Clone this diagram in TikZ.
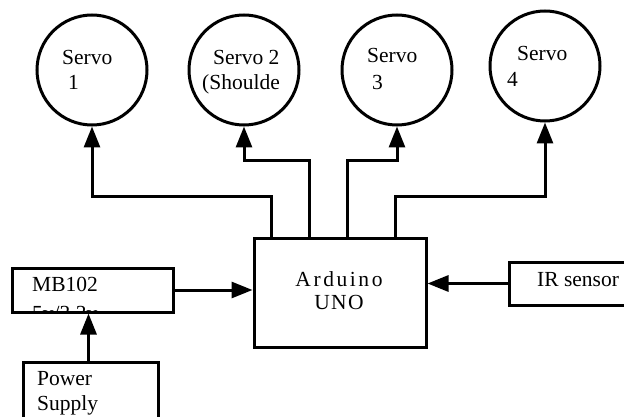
\documentclass[tikz,border=0pt]{standalone}
\usepackage{fontspec}
\setmainfont{Liberation Serif}
\usetikzlibrary{arrows.meta}
\begin{document}
\begin{tikzpicture}[x=1pt,y=-1pt,
  every node/.style={font=\fontsize{21.5}{25}\selectfont},
  servo/.style={circle,draw,line width=3pt,minimum size=110pt,inner sep=0pt},
  blk/.style={draw,line width=3pt,inner sep=0pt},
  lbl/.style={anchor=base west,inner sep=0pt},
  arr/.style={line width=3pt,-{Triangle[length=21pt,width=16pt]}}]
\useasboundingbox (0,0) rectangle (624,417);
% servos
\node[servo] (s1) at (92,70) {};
\node[servo] (s2) at (244,70) {};
\node[servo] (s3) at (397,70) {};
\node[servo] (s4) at (545,66) {};
\node[lbl] (t1a) at (62,65) {Servo};
\node[lbl] (t1b) at (68,90) {1};
\node[lbl] (t2a) at (213,65) {Servo 2};
\node[lbl] (t2b) at (202,90) {(Shoulde};
\node[lbl] (t3a) at (367,63) {Servo};
\node[lbl] (t3b) at (372,90) {3};
\node[lbl] (t4a) at (517,61) {Servo};
\node[lbl] (t4b) at (507,87) {4};
% blocks
\node[blk,minimum width=172pt,minimum height=109pt] (ard) at (340,292.5) {};
\node[anchor=base,inner sep=0pt,font=\fontsize{21.5}{25}\selectfont\addfontfeature{LetterSpace=12}] (ta) at (339,286) {Arduino};
\node[anchor=base,inner sep=0pt,font=\fontsize{21.5}{25}\selectfont\addfontfeature{LetterSpace=6}] (tu) at (339,309) {UNO};
\node[blk,minimum width=161pt,minimum height=44pt] (mb) at (92.5,290) {};
\node[lbl] (tm) at (32,291) {MB102};
\begin{scope}
\clip (13.5,269.5) rectangle (171.5,310.5);
\node[lbl] (tv) at (32,320) {5v/3.3v};
\end{scope}
\node[blk,minimum width=135pt,minimum height=70pt] (ps) at (90.5,397) {};
\node[lbl] (tp1) at (37,385) {Power};
\node[lbl] (tp2) at (37,410) {Supply};
\node[blk,minimum width=131pt,minimum height=43pt] (ir) at (574.5,283.5) {};
\node[lbl] (ti) at (537,286) {IR sensor};
% connectors
\draw[arr] ([xshift=19pt]ard.north west) -- ++(0,-40) -| (s1.south);
\draw[arr] ([xshift=57pt]ard.north west) -- ++(0,-76) -| (s2.south);
\draw[arr] ([xshift=95pt]ard.north west) -- ++(0,-76) -| (s3.south);
\draw[arr] ([xshift=143pt]ard.north west) -- ++(0,-40) -| (s4.south);
\draw[arr] (mb.east) -- (mb.east -| ard.west);
\draw[arr] (ir.west) -- (ir.west -| ard.east);
\draw[arr] ([xshift=-2pt]ps.north) -- ([xshift=-2pt]ps.north |- mb.south);
\end{tikzpicture}
\end{document}
